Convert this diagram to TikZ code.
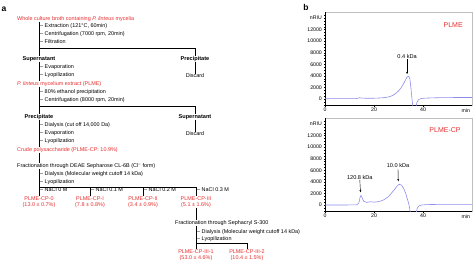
\documentclass[tikz,border=0pt]{standalone}
\usepackage{fontspec}
\setmainfont{Liberation Sans}
\usetikzlibrary{arrows.meta}
\definecolor{txtred}{RGB}{232,45,45}
\definecolor{trace}{RGB}{140,140,235}
\definecolor{boxgray}{RGB}{190,190,190}
\tikzset{
  lbl/.style={font=\fontsize{5.45}{6.2}\selectfont, inner sep=0pt},
  title/.style={lbl, anchor=west, text=txtred},
  stepnote/.style={lbl, anchor=west},
  phase/.style={lbl, font=\fontsize{5.6}{6.2}\selectfont\bfseries},
  frac/.style={lbl, text=txtred, align=center},
  panel/.style={inner sep=0pt, font=\fontsize{8.5}{9}\selectfont\bfseries},
  axlbl/.style={inner sep=0pt, font=\fontsize{5.2}{6}\selectfont},
  peaklbl/.style={inner sep=0pt, font=\fontsize{5.6}{6}\selectfont},
  sample/.style={inner sep=0pt, font=\fontsize{7}{8}\selectfont, text=txtred},
  conn/.style={line width=0.4pt},
  pk/.style={-{Stealth[length=2.4pt,width=2pt]}, line width=0.4pt}
}
\begin{document}
\begin{tikzpicture}[x=1pt,y=-1pt]
    \useasboundingbox (0,0) rectangle (474,267);
    % panel a
    \node[panel] (pa) at (4,9) {a};
    \node[title] (whole) at (17,19) {Whole culture broth containing \emph{P. linteus} mycelia};
    \node[stepnote] (s1a) at (40,26) {\textendash\ Extraction (121\textdegree C, 60min)};
    \node[stepnote] (s1b) at (40,34) {\textendash\ Centrifugation (7000 rpm, 20min)};
    \node[stepnote] (s1c) at (40,42) {\textendash\ Filtration};
    \coordinate (br1) at (39,48);
    \node[phase] (sup1) at (39,59) {Supernatant};
    \node[phase] (prec1) at (195,59) {Precipitate};
    \node[stepnote] (s2a) at (40,67) {\textendash\ Evaporation};
    \node[stepnote] (s2b) at (40,75) {\textendash\ Lyopilization};
    \node[lbl] (disc1) at (195,76) {Discard};
    \node[title] (plme) at (17,84) {\emph{P. linteus} mycelium extract (PLME)};
    \node[stepnote] (s3a) at (40,92) {\textendash\ 80\% ethanol precipitation};
    \node[stepnote] (s3b) at (40,100) {\textendash\ Centrifugation (8000 rpm, 20min)};
    \coordinate (br2) at (39,106);
    \node[phase] (prec2) at (39,117) {Precipitate};
    \node[phase] (sup2) at (195,117) {Supernatant};
    \node[lbl] (disc2) at (195,134) {Discard};
    \node[stepnote] (s4a) at (40,125) {\textendash\ Dialysis (cut off 14,000 Da)};
    \node[stepnote] (s4b) at (40,133) {\textendash\ Evaporation};
    \node[stepnote] (s4c) at (40,141) {\textendash\ Lyopilization};
    \node[title] (crude) at (17,150) {Crude polysaccharide (PLME-CP: 10.9\%)};
    \node[stepnote] (deae) at (17,166) {Fractionation through DEAE Sepharose CL-6B (Cl\textsuperscript{\textendash} form)};
    \node[stepnote] (s5a) at (40,174) {\textendash\ Dialysis (Molecular weight cutoff 14 kDa)};
    \node[stepnote] (s5b) at (40,182) {\textendash\ Lyopilization};
    \coordinate (br3) at (39,187);
    \foreach \x/\id/\rom/\salt/\yield in {39/0/0/0/13.0 ± 0.7, 90/1/I/0.1/7.8 ± 0.8, 143/2/II/0.2/3.4 ± 0.9, 196/3/III/0.3/5.1 ± 1.6} {
        \node[frac] (f\id) at (\x,202) {PLME-CP-\rom\\(\yield\%)};
        \node[stepnote] (nacl\id) at (\x+1,190) {\textendash\ NaCl \salt\ M};
        \draw[conn] (f\id.north |- br3) -- (f\id.north);
    }
    \node[stepnote] (seph) at (175,223) {Fractionation through Sephacryl S-300};
    \node[stepnote] (s6a) at (197,232) {\textendash\ Dialysis (Molecular weight cutoff 14 kDa)};
    \node[stepnote] (s6b) at (197,239) {\textendash\ Lyopilization};
    \coordinate (br4) at (196,243);
    \node[frac] (f31) at (196,255) {PLME-CP-III-1\\(53.0 ± 4.6\%)};
    \node[frac] (f32) at (247,255) {PLME-CP-III-2\\(10.4 ± 1.5\%)};
    % connectors
    \draw[conn] (sup1 |- whole.south) -- (sup1.north);
    \draw[conn] (br1) -- (br1 -| prec1) -- (prec1.north);
    \draw[conn] (sup1.south) -- (sup1 |- plme.north);
    \draw[conn] (prec1.south) -- (disc1.north);
    \draw[conn] (prec2 |- plme.south) -- (prec2.north);
    \draw[conn] (br2) -- (br2 -| sup2) -- (sup2.north);
    \draw[conn] (sup2.south) -- (disc2.north);
    \draw[conn] (prec2.south) -- (prec2 |- crude.north);
    \draw[conn] (prec2 |- crude.south) -- (prec2 |- deae.north);
    \draw[conn] (f0 |- deae.south) -- (f0.north);
    \draw[conn] (br3) -- (br3 -| f3);
    \draw[conn] (f3.south) -- (f3 |- seph.north);
    \draw[conn] (f31 |- seph.south) -- (f31.north);
    \draw[conn] (br4) -- (br4 -| f32) -- (f32.north);
    % panel b
    \node[panel] (pb) at (306,7) {b};
    % chromatogram PLME
    \begin{scope}[shift={(325,99)}, x=2.45pt, y=0.00579pt]
        \draw[boxgray, line width=0.5pt] (0,-1050) rectangle (60,15000);
        \draw[line width=0.4pt] (0,15000) -- (0,-1050) -- (60,-1050);
        \foreach \v in {-1000,-500,...,14500}
            \draw[line width=0.3pt] (0,\v) -- ++(-0.8pt,0);
        \foreach \v in {0,2000,...,12000}
            \draw[line width=0.3pt] (0,\v) -- ++(-1.5pt,0) node[axlbl, left=1.5pt] {\v};
        \node[axlbl, anchor=east] (yu1) at ([xshift=-3pt]0,14000) {nRIU};
        \foreach \t in {0,5,...,55}
            \draw[line width=0.3pt] (\t,-1050) -- ++(0,-0.8pt);
        \foreach \t in {0,20,40}
            \draw[line width=0.3pt] (\t,-1050) -- ++(0,-1.5pt) node[axlbl, below=1.5pt] {\t};
        \node[axlbl] (xu1) at ([yshift=-6pt]57.5,-1050) {min};
        \begin{scope}
            \clip (0,-1050) rectangle (60,15000);
            \draw[trace, line width=0.6pt] plot[smooth, tension=0.5] coordinates {(0,50) (8,60) (13,80) (14,220) (15,160) (18,120) (22,170) (25,280) (27,500) (29,1000) (31,1900) (32.5,3000) (33.5,3800) (34,3950) (34.6,3500) (35.1,1800) (35.5,0) (35.9,-1500)};
            \draw[trace, line width=0.6pt] plot[smooth, tension=0.5] coordinates {(37.1,-1500) (37.5,-600) (38.1,-150) (39,50) (41,150) (46,220) (52,250) (60,260)};
        \end{scope}
        \node[peaklbl] (kda1) at (33.5,7400) {0.4 kDa};
        \coordinate (top1) at (33.5,4300);
        \draw[pk] (kda1.south) ++(0,-0.6pt) -- (top1);
        \node[sample] (nm1) at (52.3,12800) {PLME};
    \end{scope}
    % chromatogram PLME-CP
    \begin{scope}[shift={(325,205)}, x=2.45pt, y=0.00579pt]
        \draw[boxgray, line width=0.5pt] (0,-1050) rectangle (60,15000);
        \draw[line width=0.4pt] (0,15000) -- (0,-1050) -- (60,-1050);
        \foreach \v in {-1000,-500,...,14500}
            \draw[line width=0.3pt] (0,\v) -- ++(-0.8pt,0);
        \foreach \v in {0,2000,...,12000}
            \draw[line width=0.3pt] (0,\v) -- ++(-1.5pt,0) node[axlbl, left=1.5pt] {\v};
        \node[axlbl, anchor=east] (yu2) at ([xshift=-3pt]0,14000) {nRIU};
        \foreach \t in {0,5,...,55}
            \draw[line width=0.3pt] (\t,-1050) -- ++(0,-0.8pt);
        \foreach \t in {0,20,40}
            \draw[line width=0.3pt] (\t,-1050) -- ++(0,-1.5pt) node[axlbl, below=1.5pt] {\t};
        \node[axlbl] (xu2) at ([yshift=-6pt]57.5,-1050) {min};
        \begin{scope}
            \clip (0,-1050) rectangle (60,15000);
            \draw[trace, line width=0.6pt] plot[smooth, tension=0.5] coordinates {(0,0) (10,10) (13,40) (13.8,350) (14.3,1300) (14.7,1650) (15.1,1300) (15.8,650) (17,450) (18.5,560) (20,500) (22,600) (24,900) (26,1500) (28,2500) (29.5,3300) (30.3,3600) (31.3,3400) (32.5,2500) (33.5,1200) (34.3,0) (34.9,-1500)};
            \draw[trace, line width=0.6pt] plot[smooth, tension=0.5] coordinates {(37.2,-1500) (37.6,-600) (38.2,-200) (39,-40) (41,50) (46,100) (60,110)};
        \end{scope}
        \node[peaklbl] (kda2) at (14.2,4800) {120.8 kDa};
        \coordinate (top2) at (14.5,2200);
        \draw[pk] (kda2.south) ++(0,-0.6pt) -- (top2);
        \node[peaklbl] (kda3) at (29.8,6750) {10.0 kDa};
        \coordinate (top3) at (29.9,4100);
        \draw[pk] (kda3.south) ++(0,-0.6pt) -- (top3);
        \node[sample] (nm2) at (49,12950) {PLME-CP};
    \end{scope}
\end{tikzpicture}
\end{document}
